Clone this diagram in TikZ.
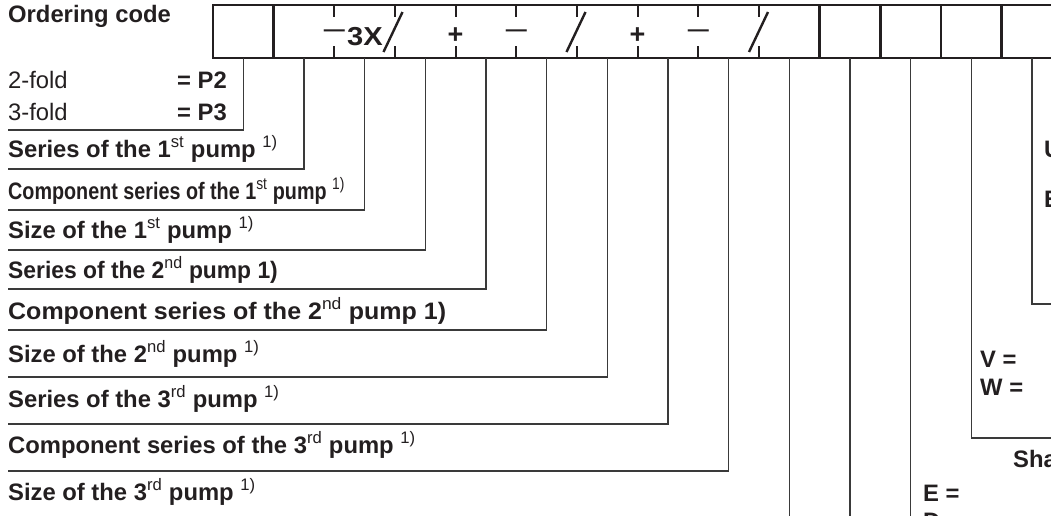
\documentclass[tikz,border=0pt]{standalone}
\usepackage{fontspec}
\setmainfont{Liberation Sans}
\usepackage{graphicx}
\definecolor{ink}{HTML}{231F20}
\definecolor{wire}{HTML}{3A3A3A}
\newcommand{\sups}[1]{\textsuperscript{\normalfont #1}}
\newcommand{\fsz}[1]{\fontsize{#1}{#1}\selectfont}
\begin{document}
\begin{tikzpicture}[x=1pt,y=-1pt,
  lbl/.style={anchor=base west, inner sep=0pt, font=\fsz{23.8}\bfseries, text=ink},
  lblr/.style={anchor=base west, inner sep=0pt, font=\fsz{23.8}, text=ink},
  boxline/.style={draw=ink, line width=2.6pt},
  tickline/.style={draw=ink, line width=2pt},
  slashline/.style={draw=ink, line width=2.4pt},
  wireline/.style={draw=wire, line width=1.3pt},
  sym/.style={anchor=base, inner sep=0pt, text=ink}]
\useasboundingbox (0,0) rectangle (1051,515);
\clip (0,0) rectangle (1051,515);

% ordering code frame
\draw[boxline] (1080,5) -- (213,5) -- (213,58) -- (1080,58);
\foreach \x in {273.7,819.6,880.3,941,1001.6}
  \draw[boxline] (\x,5) -- (\x,58);
\foreach \x in {334.3,395,455.6,516.3,577,637.6,698.3,759}{
  \draw[tickline] (\x,5) -- (\x,17);
  \draw[tickline] (\x,46) -- (\x,58);
}

% code symbols
\node[sym, font=\fsz{21}\bfseries] (m1) at (334.3,36.4) {—};
\node[sym, font=\fsz{26}\bfseries] (x3) at (365,45) {\scalebox{1.12}[1]{3X}};
\node[sym, font=\fsz{27}\bfseries] (p2) at (455.6,43) {+};
\node[sym, font=\fsz{21}\bfseries] (m2) at (516.3,36.4) {—};
\node[sym, font=\fsz{27}\bfseries] (p3) at (637.6,43) {+};
\node[sym, font=\fsz{21}\bfseries] (m3) at (698.3,36.4) {—};
\foreach \x in {393,576,758.5}
  \draw[slashline] (\x-9.5,52) -- (\x+9.5,12);

% cell taps
\foreach \i/\x in {0/243.3,1/304,2/364.6,3/425.3,4/486,5/546.6,6/607.3,7/668,8/728.6,9/789.3,10/850,11/910.6,12/971.3,13/1032}
  \coordinate (c\i) at (\x,58);

% line ends
\coordinate (e0) at (8,130);
\coordinate (e1) at (8,169);
\coordinate (e2) at (8,210);
\coordinate (e3) at (8,250);
\coordinate (e4) at (8,289);
\coordinate (e5) at (8,330);
\coordinate (e6) at (8,377);
\coordinate (e7) at (8,424);
\coordinate (e8) at (8,471);
\coordinate (e9) at (789.3,530);
\coordinate (e10) at (850,530);
\coordinate (e11) at (910.6,530);
\coordinate (e12) at (1080,438);
\coordinate (e13) at (1080,304);

\foreach \i in {0,...,8} \draw[wireline] (c\i) |- (e\i);
\foreach \i in {9,10,11} \draw[wireline] (c\i) -- (e\i);
\foreach \i in {12,13} \draw[wireline] (c\i) |- (e\i);

% left labels
\node[lbl] (title) at (8,22) {Ordering code};
\node[lblr] (f2) at (8,88) {2-fold};
\node[lbl] (p2v) at (177,88) {= P2};
\node[lblr] (f3) at (8,120) {3-fold};
\node[lbl] (p3v) at (177,120) {= P3};
\node[lbl] (l1) at (8,157) {Series of the 1\sups{st} pump \sups{1)}};
\node[lbl] (l2) at (8,199) {\scalebox{0.83}[1]{Component series of the 1\sups{st} pump \sups{1)}}};
\node[lbl] (l3) at (8,238) {Size of the 1\sups{st} pump \sups{1)}};
\node[lbl] (l4) at (8,278) {\scalebox{0.96}[1]{Series of the 2\sups{nd} pump 1)}};
\node[lbl] (l5) at (8,319) {\scalebox{1.05}[1]{Component series of the 2\sups{nd} pump 1)}};
\node[lbl] (l6) at (8,362) {Size of the 2\sups{nd} pump \sups{1)}};
\node[lbl] (l7) at (8,407) {Series of the 3\sups{rd} pump \sups{1)}};
\node[lbl] (l8) at (8,453) {Component series of the 3\sups{rd} pump \sups{1)}};
\node[lbl] (l9) at (8,500) {Size of the 3\sups{rd} pump \sups{1)}};

% right labels
\node[lbl] (u1) at (1044,157) {U};
\node[lbl] (u2) at (1044,207) {E};
\node[lbl] (v1) at (980,367) {V =};
\node[lbl] (w1) at (980,395) {W =};
\node[lbl] (sh) at (1013,467) {Sha};
\node[lbl] (ee) at (923,501) {E =};
\node[lbl] (dd) at (923,529) {D};
\end{tikzpicture}
\end{document}
